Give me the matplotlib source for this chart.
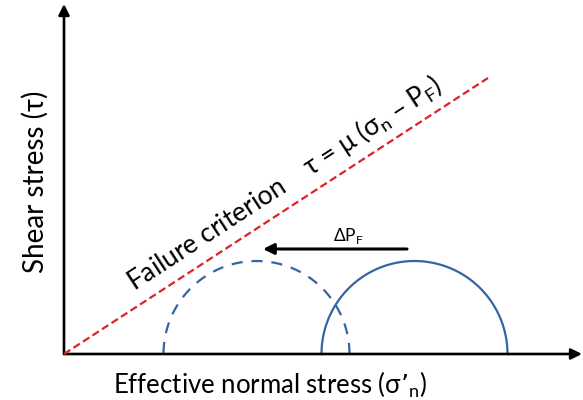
import numpy as np
import matplotlib
matplotlib.use("Agg")
import matplotlib.pyplot as plt

# Mohr circle diagram (units: arbitrary stress, 10 px per unit in the 583x400 figure)
mu = 0.651                 # friction coefficient (slope of failure line)
line_end_x = 42.4          # where the failure line stops
circle_centers = [35.05, 19.25]   # before / after pore pressure increase
circle_radius = [9.3, 9.3]
circle_styles = ['solid', 'dashed']
arrow_from = 34.3
arrow_to = 19.9
arrow_y = 10.5

xlim = (-6.4, 51.9)
ylim = (-4.6, 35.4)

red = '#dc2328'
blue = '#3564a3'

fig = plt.figure(figsize=(5.83, 4.0), dpi=100)
ax = fig.add_axes([0, 0, 1, 1])
ax.set_xlim(*xlim)
ax.set_ylim(*ylim)
ax.axis('off')

plt.rcParams['font.family'] = ['Lato', 'DejaVu Sans']

# axes with arrow heads
ax.annotate('', xy=(51.8, 0), xytext=(0, 0),
            arrowprops=dict(arrowstyle='-|>', lw=1.9, color='black',
                            mutation_scale=16, shrinkA=0, shrinkB=0))
ax.annotate('', xy=(0, 35.0), xytext=(0, 0),
            arrowprops=dict(arrowstyle='-|>', lw=1.9, color='black',
                            mutation_scale=16, shrinkA=0, shrinkB=0))

# failure line
xs = np.array([0, line_end_x])
ax.plot(xs, mu * xs, color=red, lw=1.6, dashes=(3.4, 1.7), zorder=3)

# Mohr half circles
theta = np.linspace(0, np.pi, 200)
for c, r, st in zip(circle_centers, circle_radius, circle_styles):
    ln, = ax.plot(c + r * np.cos(theta), r * np.sin(theta), color=blue, lw=1.6)
    if st == 'dashed':
        ln.set_dashes((5, 4))

# pore pressure shift arrow
ax.annotate('', xy=(arrow_to, arrow_y), xytext=(arrow_from, arrow_y),
            arrowprops=dict(arrowstyle='-|>', lw=2.2, color='black',
                            mutation_scale=16, shrinkA=0, shrinkB=0))
ax.text(28.4, 11.8, r'ΔP$_\mathregular{F}$', fontsize=12.5, ha='center', va='center')

# labels
ax.text(-2.9, 17.2, 'Shear stress (τ)', fontsize=20, rotation=90,
        ha='center', va='center')
ax.text(20.65, -3.1, 'Effective normal stress (σ’$_\\mathregular{n}$)', fontsize=18.5,
        ha='center', va='center')

angle = np.degrees(np.arctan(mu))
ax.text(7.0, 6.3, 'Failure criterion    τ = μ (σ$_\\mathregular{n}$ – P$_\\mathregular{F}$)',
        fontsize=19, rotation=angle, rotation_mode='anchor',
        ha='left', va='baseline')

fig.savefig('out.png', dpi=100)
